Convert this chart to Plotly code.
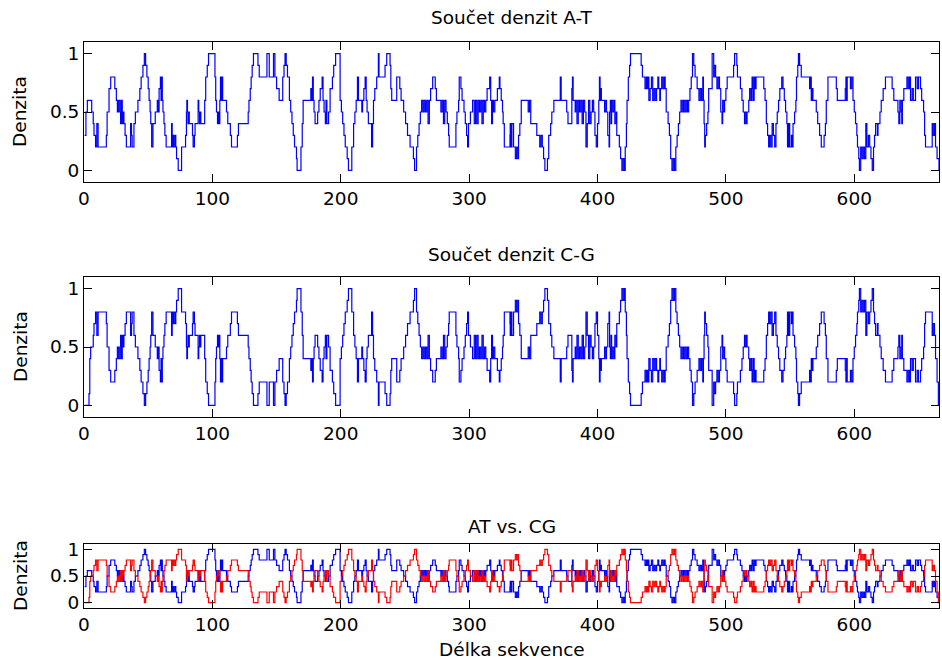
import plotly.graph_objects as go

# A-T density: (position where a level starts, level in tenths)
at_steps = [
    (0.5,3),(1.5,5),(2.6,6),(6,5),(7.2,4),(7.8,3),(9,2),(10,4),(11,2),(17.4,3),(18,5),(19.5,7),(20.8,8),(24,7),(25.2,6),(26,5),(27,6),(28,5),(28.5,4),(29,6),(29.8,4),(30.3,5),(31.1,4),(32,3),(33,2),(36.3,4),(37,3),(37.5,2),(38.9,4),(40,5),(42,6),(43.5,7),(44.5,8),(45.9,9),(47,10),(48,9),(49,8),(50,7),(50.7,6),(51.5,5),(52,4),(52.7,2),(53.7,4),(55.5,5),(57.1,6),(58,5),(58.5,7),(59.5,8),(60,6),(60.5,8),(61,6),(61.5,5),(62.3,4),(63,3),(64,2),
    (68.2,4),(68.7,2),(69.5,3),(70,2),(71,3),(71.5,2),(72.1,1),(73.4,0),(76,2),(79.1,3),(79.8,5),(80.1,6),(80.6,5),(81,4),(81.5,5),(82,4),(84.5,3),(85,2),(86,3),(86.5,4),(88.9,6),(89.4,5),(90,4),(90.5,5),(91,4),(94,6),(94.8,8),(96,9),(97,10),(102,8),(102.6,6),(103.2,5),(104,4),(104.6,5),(105,4),(105.8,6),(106.3,8),(106.8,6),(107.4,8),(108,6),(111,5),(112,4),(114,3),(114.9,2),(119.5,3),(120.3,4),(127.9,5),(128.5,6),(129.5,7),(130.2,8),(131,9),(132,10),
    (135.5,9),(136.5,8),(142.5,10),(144.3,8),(147.6,10),(148.7,8),(150,7),(152,6),(154.8,8),(155.8,9),(156.6,10),(157.5,9),(158.5,8),(160,6),(161,5),(162,4),(163,3),(164,2),(165.5,1),(166,0),(169,2),(170,4),(170.7,6),(176.7,7),(177.5,6),(178,8),(178.6,6),(179.2,5),(180,4),(182,5),(183,6),(184,7),(185.5,8),(186.2,6),(187,5),(188,4),(188.5,6),(189.2,4),(190.5,5),(191.7,7),(193.5,8),(194.5,9),(196,10),
    (199.5,6),(200.5,5),(201.5,4),(202.5,3),(203.5,2),(205,1),(206,0),(208.6,2),(210,4),(211,5),(212,6),(213,8),(213.8,6),(216.4,5),(217,6),(218,7),(219,8),(219.8,6),(220.5,5),(221.5,4),(224,2),(224.8,4),(225.5,6),(226.5,7),(228,8),(229.3,10),(229.8,8),(234.5,9),(235.8,10),(238.4,9),(239,7),(239.7,6),(243.6,8),(246,7),(247,6),(249,5),(250.5,4),(252,3),(254,2),(256.6,1),(257.5,0),(259,2),(260,3),(261,4),(262,5),(263,6),
    (264,5),(265,6),(266,5),(267,6),(268,4),(269,6),(270,7),(271.6,8),(273.6,7),(274.5,6),(278,5),(279,6),(280,4),(281,6),(282,5),(283,4),(284,3),(284.5,2),(289.7,4),(290.5,5),(291.8,6),(292.3,8),(293.6,7),(294.5,6),(296,5),(297,4),(298,3),(298.8,2),(299.5,4),(301,5),(302.7,6),(304,4),(305,6),(306,4),(307,6),(308,5),(309,6),(310,4),(311,6),(312,5),(313,6),(314,7),(316,8),(316.8,6),(317.5,4),(318.2,6),(319,5),(320,6),(322,7),(323.5,8),(324,7),(325,6),(326,5),(326.5,4),(327.4,2),(331.8,3),
    (332,4),(332.6,2),(333.3,4),(334.6,2),(336,1),(337,2),(338,1),(338.5,3),(339.5,4),(340.6,6),(346,5),(347,6),(348,4),(352.7,3),(355,2),(356,3),(357,2),(358,1),(359,0),(361,1),(362,3),(363.5,4),(364.4,5),(366,6),(371,8),(371.7,6),(376,5),(377,4),(380,7),(380.5,8),(381,6),(382.6,5),(383,6),(384,4),(385,6),(386,5),(387,6),(388,4),(389,6),(390,5),(391,2),(392,4),(393,6),(394,4),(395,5),(396,6),(397,5),
    (398,3),(399,2),(400,4),(401,6),(401.5,8),(402,6),(402.5,7),(403,6),(405.5,5),(406.5,6),(407,5),(408,3),(409,2),(409.4,5),(410,6),(410.5,4),(411,6),(412,5),(413,6),(413.5,4),(414.5,5),(415,3),(417,2),(418,1),(419,0),(420,1),(421,0),(421.6,2),(422.5,4),(423,6),(424,8),(425,9),(425.7,10),(434,9),(435,8),(437,7),(438,8),(438.7,7),(439.5,8),(440,6),(441,7),(442,8),(443,6),(444,7),(445,6),(446,7),(447,8),(447.7,7),(448.5,6),(449,7),(450,8),(451,7),(452,8),(452.7,7),(453.5,5),(455,4),(456,3),(457,1),(458,0),(459,1),(460,0),(461,2),(462,3),(463,4),(464,5),(465,6),
    (466,5),(467,6),(468,5),(469,6),(470,5),(471,6),(472,7),(473,8),(474,10),(475,9),(476,8),(477.6,7),(479,6),(480,7),(481,6),(482,8),(482.5,6),(483,4),(483.5,2),(484,3),(485,4),(486,5),(486.6,7),(489.3,10),(490.5,8),(491,9),(492,8),(493,7),(494,8),(495,7),(496,5),(497,4),(497.5,6),(498,5),(499,6),(500,7),(501,8),(506,9),(506.8,10),(508.5,9),(509,8),(511.3,7),(512.5,6),(513.5,5),(514.5,4),(515,5),(516,4),(516.5,5),(517.8,6),(518.5,7),(519.5,6),(520.4,8),(521,7),(521.5,6),(522,8),(522.7,7),(523.5,8),(529.5,7),(530.5,6),(531.5,4),(532.5,3),(533.3,2),
    (534,3),(535,2),(536,4),(537,3),(538,2),(539,4),(540,5),(541,6),(542,7),(543.5,8),(544.5,7),(545.5,6),(546.5,5),(547.5,4),(548,2),(548.8,4),(549.7,2),(551,3),(551.5,2),(552.3,4),(553.5,5),(554.5,6),(555,8),(556,9),(556.5,10),(557.4,9),(558.7,8),(565.2,7),(566,8),(566.5,6),(567.2,7),(567.8,6),(570.4,5),(571.5,4),(573,3),(574.3,2),(576.5,3),(577.5,4),(578.2,6),(579.5,8),(586,7),(586.8,6),(593,7),(593.5,8),(594,6),(594.5,8),(597,7),(598,8),
    (599,6),(600,5),(601,4),(602,3),(602.5,2),(603.5,1),(604,0),(605,2),(606,1),(607,2),(608,1),(609,4),(609.8,2),(611,3),(612,2),(613,1),(614,0),(615,2),(615.8,3),(616.6,4),(618,3),(618.5,4),(620,5),(621,6),(622.5,7),(624.3,8),(629.5,7),(630.8,6),(634,5),(634.7,4),(635.5,6),(636.5,5),(637,4),(637.5,6),(638.6,7),(641,8),(642,7),(643,8),(643.8,6),(645,7),(646,6),(647.7,8),(649,7),(650,8),(651.6,7),(652.5,6),(654,5),(654.8,3),(655.5,2),(660.7,4),(661.5,3),(662.5,4),(663.3,2),(664.5,1),(666,0),(667,0),
]

# C-G density: (position where a level starts, level in tenths)
cg_steps = [
    (0.5,0),(3.9,1),(4.5,4),(5.2,5),(7.2,6),(7.8,7),(9,8),(10,6),(11,8),(17.4,7),(18,5),(19.5,3),(20.8,2),(24,3),(25.2,4),(26,5),(27,4),(28,5),(28.5,6),(29,4),(29.8,6),(30.3,5),(31.1,6),(32,7),(33,8),(36.3,6),(37,7),(37.5,8),(38.9,6),(40,5),(42,4),(43.5,3),(44.5,2),(45.9,1),(47,0),(48,1),(49,2),(50,3),(50.7,4),(51.5,5),(52,6),(52.7,8),(53.7,6),(55.5,5),(57.1,4),(58,5),(58.5,3),(59.5,2),(60,4),(60.5,2),(61,4),(61.5,5),(62.3,6),(63,7),(64,8),
    (68.2,6),(68.7,8),(69.5,7),(70,8),(71,7),(71.5,8),(72.1,9),(73.4,10),(76,8),(79.1,7),(79.8,5),(80.1,4),(80.6,5),(81,6),(81.5,5),(82,6),(84.5,7),(85,8),(86,7),(86.5,6),(88.9,4),(89.4,5),(90,6),(90.5,5),(91,6),(94,4),(94.8,2),(96,1),(97,0),(102,2),(102.6,4),(103.2,5),(104,6),(104.6,5),(105,6),(105.8,4),(106.3,2),(106.8,4),(107.4,2),(108,4),(111,5),(112,6),(114,7),(114.9,8),(119.5,7),(120.3,6),(127.9,5),(128.5,4),(129.5,3),(130.2,2),(131,1),(132,0),
    (135.5,1),(136.5,2),(142.5,0),(144.3,2),(147.6,0),(148.7,2),(150,3),(152,4),(154.8,2),(155.8,1),(156.6,0),(157.5,1),(158.5,2),(160,4),(161,5),(162,6),(163,7),(164,8),(165.5,9),(166,10),(169,8),(170,6),(170.7,4),(176.7,3),(177.5,4),(178,2),(178.6,4),(179.2,5),(180,6),(182,5),(183,4),(184,3),(185.5,2),(186.2,4),(187,5),(188,6),(188.5,4),(189.2,6),(190.5,5),(191.7,3),(193.5,2),(194.5,1),(196,0),
    (199.5,4),(200.5,5),(201.5,6),(202.5,7),(203.5,8),(205,9),(206,10),(208.6,8),(210,6),(211,5),(212,4),(213,2),(213.8,4),(216.4,5),(217,4),(218,3),(219,2),(219.8,4),(220.5,5),(221.5,6),(224,8),(224.8,6),(225.5,4),(226.5,3),(228,2),(229.3,0),(229.8,2),(234.5,1),(235.8,0),(238.4,1),(239,3),(239.7,4),(243.6,2),(246,3),(247,4),(249,5),(250.5,6),(252,7),(254,8),(256.6,9),(257.5,10),(259,8),(260,7),(261,6),(262,5),(263,4),
    (264,5),(265,4),(266,5),(267,4),(268,6),(269,4),(270,3),(271.6,2),(273.6,3),(274.5,4),(278,5),(279,4),(280,6),(281,4),(282,5),(283,6),(284,7),(284.5,8),(289.7,6),(290.5,5),(291.8,4),(292.3,2),(293.6,3),(294.5,4),(296,5),(297,6),(298,7),(298.8,8),(299.5,6),(301,5),(302.7,4),(304,6),(305,4),(306,6),(307,4),(308,5),(309,4),(310,6),(311,4),(312,5),(313,4),(314,3),(316,2),(316.8,4),(317.5,6),(318.2,4),(319,5),(320,4),(322,3),(323.5,2),(324,3),(325,4),(326,5),(326.5,6),(327.4,8),(331.8,7),
    (332,6),(332.6,8),(333.3,6),(334.6,8),(336,9),(337,8),(338,9),(338.5,7),(339.5,6),(340.6,4),(346,5),(347,4),(348,6),(352.7,7),(355,8),(356,7),(357,8),(358,9),(359,10),(361,9),(362,7),(363.5,6),(364.4,5),(366,4),(371,2),(371.7,4),(376,5),(377,6),(380,3),(380.5,2),(381,4),(382.6,5),(383,4),(384,6),(385,4),(386,5),(387,4),(388,6),(389,4),(390,5),(391,8),(392,6),(393,4),(394,6),(395,5),(396,4),(397,5),
    (398,7),(399,8),(400,6),(401,4),(401.5,2),(402,4),(402.5,3),(403,4),(405.5,5),(406.5,4),(407,5),(408,7),(409,8),(409.4,5),(410,4),(410.5,6),(411,4),(412,5),(413,4),(413.5,6),(414.5,5),(415,7),(417,8),(418,9),(419,10),(420,9),(421,10),(421.6,8),(422.5,6),(423,4),(424,2),(425,1),(425.7,0),(434,1),(435,2),(437,3),(438,2),(438.7,3),(439.5,2),(440,4),(441,3),(442,2),(443,4),(444,3),(445,4),(446,3),(447,2),(447.7,3),(448.5,4),(449,3),(450,2),(451,3),(452,2),(452.7,3),(453.5,5),(455,6),(456,7),(457,9),(458,10),(459,9),(460,10),(461,8),(462,7),(463,6),(464,5),(465,4),
    (466,5),(467,4),(468,5),(469,4),(470,5),(471,4),(472,3),(473,2),(474,0),(475,1),(476,2),(477.6,3),(479,4),(480,3),(481,4),(482,2),(482.5,4),(483,6),(483.5,8),(484,7),(485,6),(486,5),(486.6,3),(489.3,0),(490.5,2),(491,1),(492,2),(493,3),(494,2),(495,3),(496,5),(497,6),(497.5,4),(498,5),(499,4),(500,3),(501,2),(506,1),(506.8,0),(508.5,1),(509,2),(511.3,3),(512.5,4),(513.5,5),(514.5,6),(515,5),(516,6),(516.5,5),(517.8,4),(518.5,3),(519.5,4),(520.4,2),(521,3),(521.5,4),(522,2),(522.7,3),(523.5,2),(529.5,3),(530.5,4),(531.5,6),(532.5,7),(533.3,8),
    (534,7),(535,8),(536,6),(537,7),(538,8),(539,6),(540,5),(541,4),(542,3),(543.5,2),(544.5,3),(545.5,4),(546.5,5),(547.5,6),(548,8),(548.8,6),(549.7,8),(551,7),(551.5,8),(552.3,6),(553.5,5),(554.5,4),(555,2),(556,1),(556.5,0),(557.4,1),(558.7,2),(565.2,3),(566,2),(566.5,4),(567.2,3),(567.8,4),(570.4,5),(571.5,6),(573,7),(574.3,8),(576.5,7),(577.5,6),(578.2,4),(579.5,2),(586,3),(586.8,4),(593,3),(593.5,2),(594,4),(594.5,2),(597,3),(598,2),
    (599,4),(600,5),(601,6),(602,7),(602.5,8),(603.5,9),(604,10),(605,8),(606,9),(607,8),(608,9),(609,6),(609.8,8),(611,7),(612,8),(613,9),(614,10),(615,8),(615.8,7),(616.6,6),(618,7),(618.5,6),(620,5),(621,4),(622.5,3),(624.3,2),(629.5,3),(630.8,4),(634,5),(634.7,6),(635.5,4),(636.5,5),(637,6),(637.5,4),(638.6,3),(641,2),(642,3),(643,2),(643.8,4),(645,3),(646,4),(647.7,2),(649,3),(650,2),(651.6,3),(652.5,4),(654,5),(654.8,7),(655.5,8),(660.7,6),(661.5,7),(662.5,6),(663.3,4),(664.5,2),(665.5,0),(667,0),
]

titles = ["Součet denzit A-T", "Součet denzit C-G", "AT vs. CG"]
x_label = "Délka sekvence"
y_label = "Denzita"
x_ticks = [0, 100, 200, 300, 400, 500, 600]
y_ticks = [0, 0.5, 1]
y_tick_text = ["0", "0.5", "1"]

at_x = [p[0] for p in at_steps]
at_y = [p[1] / 10 for p in at_steps]
cg_x = [p[0] for p in cg_steps]
cg_y = [p[1] / 10 for p in cg_steps]

W, H = 942, 660
ML, MR, MT, MB = 84, 3, 8, 8
PW, PH = W - ML - MR, H - MT - MB
BLUE = "#0000FF"
RED = "#FF0000"
FONT = "DejaVu Sans"
FS = 18.5

def px(x):
    return (x - ML) / PW

def py(y):
    return (H - MB - y) / PH

y_doms = [[py(182), py(42)], [py(417), py(277)], [py(608), py(544)]]

fig = go.Figure()
lw = 1.2
fig.add_trace(go.Scatter(x=at_x, y=at_y, mode="lines", line=dict(color=BLUE, width=lw, shape="hv"),
                         xaxis="x", yaxis="y", showlegend=False, hoverinfo="skip"))
fig.add_trace(go.Scatter(x=cg_x, y=cg_y, mode="lines", line=dict(color=BLUE, width=lw, shape="hv"),
                         xaxis="x2", yaxis="y2", showlegend=False, hoverinfo="skip"))
fig.add_trace(go.Scatter(x=at_x, y=at_y, mode="lines", line=dict(color=BLUE, width=lw, shape="hv"),
                         xaxis="x3", yaxis="y3", showlegend=False, hoverinfo="skip"))
fig.add_trace(go.Scatter(x=cg_x, y=cg_y, mode="lines", line=dict(color=RED, width=lw, shape="hv"),
                         xaxis="x3", yaxis="y3", showlegend=False, hoverinfo="skip"))

axis_common = dict(showline=True, linecolor="black", linewidth=1, mirror="ticks",
                   ticks="inside", ticklen=8, tickcolor="black", tickwidth=1,
                   showgrid=False, zeroline=False, automargin=False,
                   tickfont=dict(family=FONT, size=FS, color="black"))

layout = dict(width=W, height=H, margin=dict(l=ML, r=MR, t=MT, b=MB, autoexpand=False),
              paper_bgcolor="white", plot_bgcolor="white", showlegend=False)
for i in range(3):
    xs = "xaxis" if i == 0 else f"xaxis{i+1}"
    ys = "yaxis" if i == 0 else f"yaxis{i+1}"
    anchor_y = "y" if i == 0 else f"y{i+1}"
    anchor_x = "x" if i == 0 else f"x{i+1}"
    layout[xs] = dict(axis_common, domain=[0, 1], anchor=anchor_y, range=[0, 666],
                      tickvals=x_ticks, ticktext=[str(t) for t in x_ticks])
    layout[ys] = dict(axis_common, domain=y_doms[i], anchor=anchor_x, range=[-0.1, 1.1],
                      tickvals=y_ticks, ticktext=y_tick_text)
fig.update_layout(**layout)

ann = []
title_y = [18, 254, 526]
cx = px((84 + 939) / 2)
for t, yy in zip(titles, title_y):
    ann.append(dict(text=t, x=cx, y=py(yy), xref="paper", yref="paper",
                    xanchor="center", yanchor="middle", showarrow=False,
                    font=dict(family=FONT, size=FS, color="black")))
for yy in [112, 347, 576]:
    ann.append(dict(text=y_label, x=px(20), y=py(yy), xref="paper", yref="paper",
                    xanchor="center", yanchor="middle", showarrow=False, textangle=-90,
                    font=dict(family=FONT, size=FS, color="black")))
ann.append(dict(text=x_label, x=cx, y=py(649), xref="paper", yref="paper",
                xanchor="center", yanchor="middle", showarrow=False,
                font=dict(family=FONT, size=FS, color="black")))
fig.update_layout(annotations=ann)

fig.write_html("out.html", config={"displayModeBar": False},
               post_script="document.body.style.margin='0';document.body.style.padding='0';document.body.style.overflow='hidden';")
